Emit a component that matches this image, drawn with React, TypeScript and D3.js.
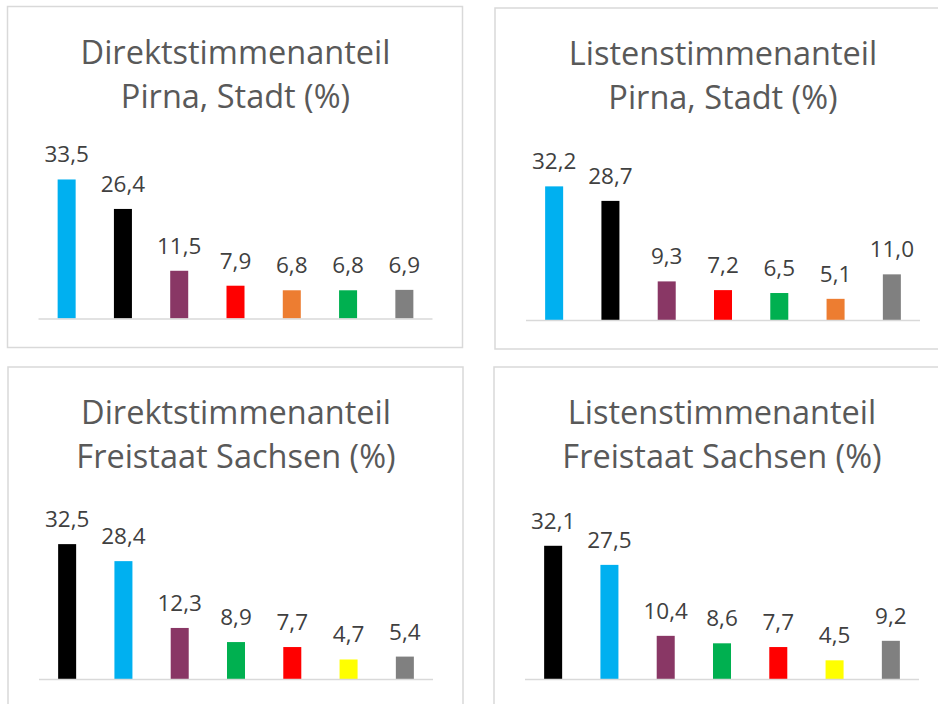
import React from "react";
import * as d3 from "d3";

// party colours
const colors: Record<string, string> = {
  AfD: "#00B0F0",
  CDU: "#000000",
  Linke: "#893765",
  SPD: "#FF0000",
  FW: "#ED7D31",
  Gruene: "#00B050",
  FDP: "#FFFF00",
  Sonstige: "#808080",
};

const directPirnaParties = ["AfD", "CDU", "Linke", "SPD", "FW", "Gruene", "Sonstige"];
const directPirnaValues = [33.5, 26.4, 11.5, 7.9, 6.8, 6.8, 6.9];

const listPirnaParties = ["AfD", "CDU", "Linke", "SPD", "Gruene", "FW", "Sonstige"];
const listPirnaValues = [32.2, 28.7, 9.3, 7.2, 6.5, 5.1, 11.0];

const directSachsenParties = ["CDU", "AfD", "Linke", "Gruene", "SPD", "FDP", "Sonstige"];
const directSachsenValues = [32.5, 28.4, 12.3, 8.9, 7.7, 4.7, 5.4];

const listSachsenParties = ["CDU", "AfD", "Linke", "Gruene", "SPD", "FDP", "Sonstige"];
const listSachsenValues = [32.1, 27.5, 10.4, 8.6, 7.7, 4.5, 9.2];

const titles = [
  ["Direktstimmenanteil", "Pirna, Stadt (%)"],
  ["Listenstimmenanteil", "Pirna, Stadt (%)"],
  ["Direktstimmenanteil", "Freistaat Sachsen (%)"],
  ["Listenstimmenanteil", "Freistaat Sachsen (%)"],
];

const PW = 455;
const PH = 341;
const font = "'Open Sans', sans-serif";

interface PanelProps {
  x: number;
  y: number;
  title: string[];
  parties: string[];
  values: number[];
}

const Panel: React.FC<PanelProps> = ({ x, y, title, parties, values }) => {
  const xScale = d3
    .scaleBand<string>()
    .domain(parties.map((p, i) => `${i}`))
    .range([31, 425])
    .paddingInner(0.68)
    .paddingOuter(0.34);
  const yScale = d3.scaleLinear().domain([0, 40]).range([312, 146]);
  const fmt = (v: number) => v.toFixed(1).replace(".", ",");

  return (
    <g transform={`translate(${x},${y})`}>
      <rect x={0} y={0} width={PW} height={PH} fill="#fff" stroke="#d9d9d9" strokeWidth={1.5} />
      {title.map((t, i) => (
        <text
          key={i}
          x={228}
          y={57 + i * 44}
          textAnchor="middle"
          fontFamily={font}
          fontSize={32.5}
          fill="#595959"
        >
          {t}
        </text>
      ))}
      {values.map((v, i) => (
        <rect
          key={i}
          x={xScale(`${i}`)}
          y={yScale(v)}
          width={xScale.bandwidth()}
          height={yScale(0) - yScale(v)}
          fill={colors[parties[i]]}
        />
      ))}
      {values.map((v, i) => (
        <text
          key={i}
          x={(xScale(`${i}`) || 0) + xScale.bandwidth() / 2}
          y={yScale(v) - 17}
          textAnchor="middle"
          fontFamily={font}
          fontSize={22.5}
          fill="#404040"
        >
          {fmt(v)}
        </text>
      ))}
      <line x1={31} x2={425} y1={312.5} y2={312.5} stroke="#d9d9d9" strokeWidth={1.5} />
    </g>
  );
};

export default function App() {
  return (
    <svg
      width={938}
      height={704}
      style={{ position: "absolute", left: 0, top: 0, background: "#fff" }}
    >
      <Panel x={7.5} y={6.5} title={titles[0]} parties={directPirnaParties} values={directPirnaValues} />
      <Panel x={495} y={8} title={titles[1]} parties={listPirnaParties} values={listPirnaValues} />
      <Panel x={8} y={367} title={titles[2]} parties={directSachsenParties} values={directSachsenValues} />
      <Panel x={494} y={367} title={titles[3]} parties={listSachsenParties} values={listSachsenValues} />
    </svg>
  );
}
